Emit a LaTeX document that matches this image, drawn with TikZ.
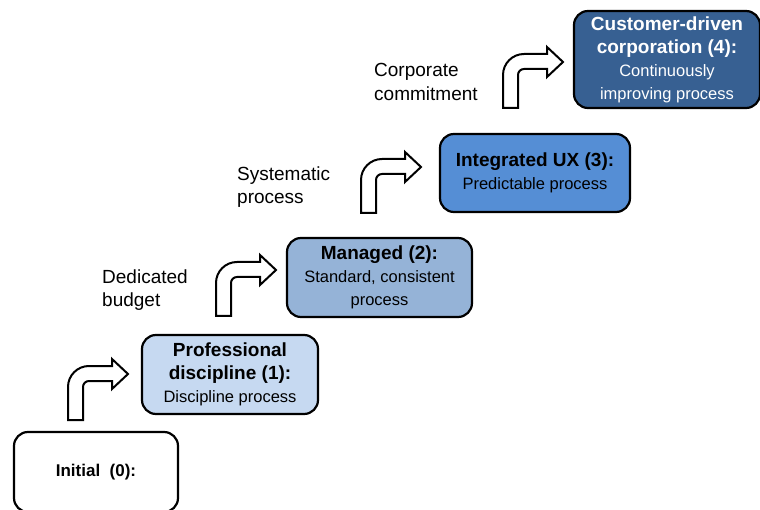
\documentclass[tikz,border=0pt]{standalone}
\usepackage{fontspec}
\setmainfont{Liberation Sans}
\definecolor{lvlone}{HTML}{C6D9F1}
\definecolor{lvltwo}{HTML}{95B3D7}
\definecolor{lvlthree}{HTML}{558ED5}
\definecolor{lvlfour}{HTML}{376092}
\newcommand{\stagetitle}[1]{{\fontsize{19}{23}\selectfont\bfseries #1}}
\tikzset{
    x=1pt, y=1pt, % one unit is one pixel of the reference
    stage/.style={draw, line width=2.2pt, rounded corners=14pt, align=center, inner sep=0pt, font=\fontsize{16.5}{23}\selectfont}, % the boxes of the ladder
    tag/.style={anchor=west, align=left, inner sep=0pt, font=\fontsize{19}{23.5}\selectfont}, % the text left of each arrow
    bentarrow/.pic={
        \draw[line width=2pt, fill=white] (0,0) -- (0,33) arc[start angle=180, end angle=90, radius=21] -- (44,54) -- (44,61) -- (60,46) -- (44,31) -- (44,39) -- (21,39) arc[start angle=90, end angle=180, radius=6] -- (15,0) -- cycle;
    },
}

\begin{document}
\begin{tikzpicture}
    \clip (0,0) rectangle (760,-510);
    \node[stage, minimum width=164pt, minimum height=80pt] (s0) at (96,-472) {\stagetitle{\fontsize{17}{21}\selectfont Initial\ \ (0):}};
    \node[stage, fill=lvlone, minimum width=176pt, minimum height=79pt] (s1) at (230,-374.5) {\stagetitle{Professional}\\\stagetitle{discipline (1):}\\Discipline process};
    \node[stage, fill=lvltwo, minimum width=185pt, minimum height=79pt] (s2) at (379.5,-277.5) {\stagetitle{Managed (2):}\\Standard, consistent\\process};
    \node[stage, fill=lvlthree, minimum width=190pt, minimum height=78pt] (s3) at (535,-173) {\stagetitle{Integrated UX (3):}\\Predictable process};
    \node[stage, fill=lvlfour, text=white, minimum width=186pt, minimum height=97pt] (s4) at (667,-59.5) {\stagetitle{Customer-driven}\\\stagetitle{corporation (4):}\\Continuously\\improving process};
    % arrows between the steps
    \pic at (68,-420) {bentarrow};
    \pic at (216,-316) {bentarrow};
    \pic at (361,-213) {bentarrow};
    \pic at (503,-108) {bentarrow};
    \node[tag] (t1) at (102,-290) {Dedicated\\budget};
    \node[tag] (t2) at (237,-187) {Systematic\\process};
    \node[tag] (t3) at (374,-82) {Corporate\\commitment};
\end{tikzpicture}
\end{document}
